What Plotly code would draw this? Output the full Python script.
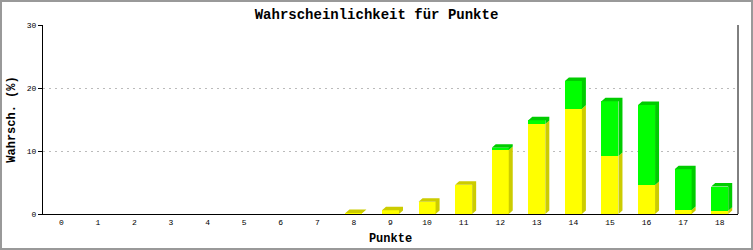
import plotly.graph_objects as go

# ---- data ----
categories = list(range(19))
tick_labels = [str(c) for c in categories]
yellow_vals = [0, 0, 0, 0, 0, 0, 0, 0, 0.15, 0.6, 1.95, 4.65, 10.15, 14.3, 16.7, 9.2, 4.6, 0.65, 0.5]
green_vals = [0, 0, 0, 0, 0, 0, 0, 0, 0, 0, 0, 0, 0.35, 0.6, 4.4, 8.7, 12.7, 6.45, 3.85]

title_text = "Wahrscheinlichkeit für Punkte"
x_title = "Punkte"
y_title = "Wahrsch. (%)"

# ---- style ----
W, H = 753, 250
ML, MR, MT, MB = 43, 15, 25, 36
PW, PH = W - ML - MR, H - MT - MB
XMIN, XMAX = -0.5, 18.5
YMIN, YMAX = 0, 30
BAR_W = 0.465
DX = 4 * (XMAX - XMIN) / PW     # depth in x data units (4 px)
DY = 3.5 * (YMAX - YMIN) / PH   # depth in y data units (3.5 px)

YEL, YEL_D = "#ffff00", "#cccc00"
GRN, GRN_D = "#00ff00", "#00cc00"
FONT = "Liberation Mono"

fig = go.Figure()

# front faces
fig.add_trace(go.Bar(x=categories, y=yellow_vals, width=BAR_W,
                     marker=dict(color=YEL, line=dict(width=0)), hoverinfo="skip"))
fig.add_trace(go.Bar(x=categories, y=green_vals, width=BAR_W,
                     marker=dict(color=GRN, line=dict(width=0)), hoverinfo="skip"))

# 3D side & top faces built from the data
def side_poly(xc, y0, y1):
    xr = xc + BAR_W / 2
    return [xr, xr + DX, xr + DX, xr, xr, None], [y0, y0 + DY, y1 + DY, y1, y0, None]

def top_poly(xc, y1):
    xl, xr = xc - BAR_W / 2, xc + BAR_W / 2
    return [xl, xl + DX, xr + DX, xr, xl, None], [y1, y1 + DY, y1 + DY, y1, y1, None]

yx, yy, gx, gy = [], [], [], []
for c, yv, gv in zip(categories, yellow_vals, green_vals):
    if yv > 0:
        px, py = side_poly(c, 0, yv)
        yx += px; yy += py
    if gv > 0:
        px, py = side_poly(c, yv, yv + gv)
        gx += px; gy += py
        px, py = top_poly(c, yv + gv)
        gx += px; gy += py
    elif yv > 0:
        px, py = top_poly(c, yv)
        yx += px; yy += py

fig.add_trace(go.Scatter(x=yx, y=yy, mode="lines", fill="toself", fillcolor=YEL_D,
                         line=dict(width=0, color=YEL_D), hoverinfo="skip"))
fig.add_trace(go.Scatter(x=gx, y=gy, mode="lines", fill="toself", fillcolor=GRN_D,
                         line=dict(width=0, color=GRN_D), hoverinfo="skip"))

fig.update_layout(
    width=W, height=H,
    margin=dict(l=ML, r=MR, t=MT, b=MB, pad=0, autoexpand=False),
    paper_bgcolor="white", plot_bgcolor="white",
    barmode="stack", bargap=0, showlegend=False,
    title=dict(text=title_text, x=0.5, xref="container", xanchor="center",
               y=1 - 14 / H, yref="container", yanchor="middle",
               font=dict(family=FONT, size=14, color="black", weight="bold")),
    xaxis=dict(range=[XMIN, XMAX], tickvals=categories, ticktext=tick_labels,
               automargin=False,
               showgrid=False, zeroline=False, showline=True, linecolor="black",
               linewidth=1, ticks="", tickfont=dict(family=FONT, size=8, color="black"),
               title=dict(text=x_title, standoff=8,
                          font=dict(family=FONT, size=12, color="black", weight="bold"))),
    yaxis=dict(range=[YMIN, YMAX], tickvals=[0, 10, 20, 30], showgrid=True,
               automargin=False,
               gridcolor="#bbbbbb", griddash="2px,4px", gridwidth=1,
               zeroline=False, showline=True, linecolor="black", linewidth=1,
               ticks="outside", ticklen=4, tickcolor="black", tickwidth=1,
               tickfont=dict(family=FONT, size=8, color="black"),
               title=dict(text=y_title, standoff=8,
                          font=dict(family=FONT, size=12, color="black", weight="bold"))),
    shapes=[
        dict(type="line", xref="paper", yref="paper", x0=1, x1=1, y0=0, y1=1,
             line=dict(color="black", width=1)),
        dict(type="rect", xref="paper", yref="paper",
             x0=(1 - ML) / PW, x1=(W - 1 - ML) / PW,
             y0=-(MB - 1) / PH, y1=(H - MB - 1) / PH,
             line=dict(color="#999999", width=2)),
    ],
)

fig.write_html("out.html")
